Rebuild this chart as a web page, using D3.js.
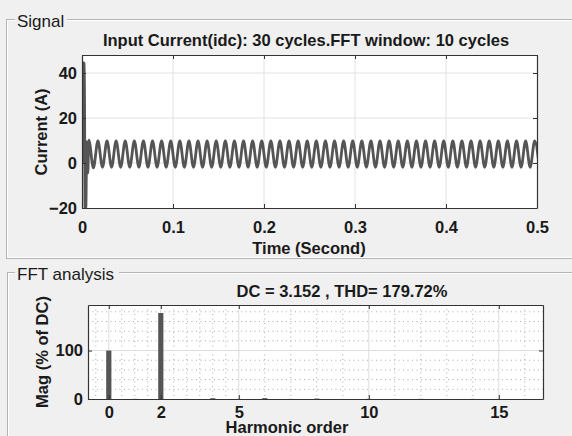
<!DOCTYPE html>
<html>
<head>
<meta charset="utf-8">
<script src="https://cdn.jsdelivr.net/npm/d3@7"></script>
<style>
  body { margin: 0; background: #f0f0f0; }
  svg { display: block; font-family: "Liberation Sans", Arial, sans-serif; }
  .tick text { font-size: 16.5px; font-weight: bold; fill: #1a1a1a; }
  .lbl { font-size: 16.5px; font-weight: bold; fill: #1a1a1a; }
  .panel-title { font-size: 17px; fill: #1a1a1a; }
</style>
</head>
<body>
<svg width="572" height="436"></svg>
<script>
// signal panel data
var timeTicks = [0, 0.1, 0.2, 0.3, 0.4, 0.5];
var currentTicks = [-20, 0, 20, 40];
var transientT = [0, 0.0003, 0.0026, 0.0033, 0.0042, 0.0052, 0.0064];
var transientI = [0, 44.6, 44.2, -20, -20, 9.5, -4.5];
var waveStart = 0.0075, waveStep = 0.005;
var waveExtrema = [
  10.2, -2.2, 9.8, -1.9, 9.8, -1.9, 9.8, -1.9, 9.8, -1.9,
  9.8, -1.9, 9.8, -1.9, 9.8, -1.9, 9.8, -1.9, 9.8, -1.9,
  9.8, -1.9, 9.8, -1.9, 9.8, -1.9, 9.8, -1.9, 9.8, -1.9,
  9.8, -1.9, 9.8, -1.9, 9.8, -1.9, 9.8, -1.9, 9.8, -1.9,
  9.8, -1.9, 9.8, -1.9, 9.8, -1.9, 9.8, -1.9, 9.8, -1.9,
  9.8, -1.9, 9.8, -1.9, 9.8, -1.9, 9.8, -1.9, 9.8, -1.9,
  9.8, -1.9, 9.8, -1.9, 9.8, -1.9, 9.8, -1.9, 9.8, -1.9,
  9.8, -1.9, 9.8, -1.9, 9.8, -1.9, 9.8, -1.9, 9.8, -1.9,
  9.8, -1.9, 9.8, -1.9, 9.8, -1.9, 9.8, -1.9, 9.8, -1.9,
  9.8, -1.9, 9.8, -1.9, 9.8, -1.9, 9.8, -1.9, 9.8, -1.9
];

// FFT panel data
var harmonics = [0, 1, 2, 3, 4, 5, 6, 7, 8, 9, 10, 11, 12, 13, 14, 15, 16];
var magnitudes = [100, 0.3, 177.5, 0.2, 1.6, 0.2, 1.8, 0.2, 0.9, 0.1, 0.4, 0.1, 0.3, 0.1, 0.2, 0.1, 0.1];
var harmonicTicks = [0, 2, 5, 10, 15];
var harmonicMinor = [-0.5, 0.5, 1, 1.5, 2.5, 3, 3.5, 4, 4.5, 6, 7, 8, 9, 11, 12, 13, 14, 16];
var magTicks = [0, 100];
var magMinor = [20, 40, 60, 80, 120, 140, 160, 180];

var svg = d3.select("svg");
var ink = "#555";
var axisColor = "#333";

function panel(x0, y0, x1, y1, title, titleW) {
  svg.append("rect").attr("x", x0).attr("y", y0).attr("width", x1 - x0).attr("height", y1 - y0)
    .attr("fill", "none").attr("stroke", "#b4b4b4");
  svg.append("rect").attr("x", x0 + 1).attr("y", y0 + 1).attr("width", x1 - x0 - 2).attr("height", y1 - y0 - 2)
    .attr("fill", "none").attr("stroke", "#fff");
  svg.append("rect").attr("x", 15).attr("y", y0 - 10).attr("width", titleW).attr("height", 20).attr("fill", "#f0f0f0");
  svg.append("text").attr("class", "panel-title").attr("x", 17).attr("y", y0 + 7.5).text(title);
}

panel(6.5, 19.5, 600, 258.5, "Signal", 52);
panel(7.5, 272.5, 600, 460, "FFT analysis", 104);

// ---------- signal plot ----------
var x1 = d3.scaleLinear().domain([0, 0.5]).range([82, 537]);
var y1 = d3.scaleLinear().domain([-20, 48]).range([208, 55]);

svg.append("rect").attr("x", 82).attr("y", 55).attr("width", 455).attr("height", 153).attr("fill", "#fff");

var g1 = svg.append("g");
g1.selectAll(".vg").data(timeTicks.slice(1, -1)).enter().append("line")
  .attr("x1", function(d) { return x1(d); }).attr("x2", function(d) { return x1(d); })
  .attr("y1", 55).attr("y2", 208).attr("stroke", "#e2e2e2");
g1.selectAll(".hg").data([0, 20, 40]).enter().append("line")
  .attr("y1", function(d) { return y1(d); }).attr("y2", function(d) { return y1(d); })
  .attr("x1", 82).attr("x2", 537).attr("stroke", "#e2e2e2");

svg.append("clipPath").attr("id", "clip1").append("rect")
  .attr("x", 82).attr("y", 55).attr("width", 455).attr("height", 153);

var pts = transientT.map(function(t, i) { return [t, transientI[i]]; })
  .concat(waveExtrema.map(function(v, i) { return [waveStart + i * waveStep, v]; }));

g1.append("path")
  .attr("clip-path", "url(#clip1)")
  .attr("fill", "none").attr("stroke", ink).attr("stroke-width", 2.8)
  .attr("d", d3.line().x(function(d) { return x1(d[0]); }).y(function(d) { return y1(d[1]); })
    .curve(d3.curveMonotoneX)(pts));

function styleAxis(g) {
  g.select(".domain").attr("stroke", axisColor).attr("stroke-width", 1.2);
  g.selectAll(".tick line").attr("stroke", axisColor);
}

svg.append("g").attr("transform", "translate(0,208)")
  .call(d3.axisBottom(x1).tickValues(timeTicks).tickFormat(d3.format("")).tickSizeInner(-4).tickSizeOuter(0).tickPadding(13))
  .call(styleAxis);
svg.append("g").attr("transform", "translate(0,55)")
  .call(d3.axisTop(x1).tickValues(timeTicks).tickFormat("").tickSizeInner(-4).tickSizeOuter(0))
  .call(styleAxis);
svg.append("g").attr("transform", "translate(82,0)")
  .call(d3.axisLeft(y1).tickValues(currentTicks).tickSizeInner(-4).tickSizeOuter(0).tickPadding(5))
  .call(styleAxis);
svg.append("g").attr("transform", "translate(537,0)")
  .call(d3.axisRight(y1).tickValues(currentTicks).tickFormat("").tickSizeInner(-4).tickSizeOuter(0))
  .call(styleAxis);

svg.append("text").attr("class", "lbl").attr("x", 306).attr("y", 46).attr("text-anchor", "middle")
  .text("Input Current(idc): 30 cycles.FFT window: 10 cycles");
svg.append("text").attr("class", "lbl").attr("x", 309).attr("y", 254).attr("text-anchor", "middle")
  .text("Time (Second)");
svg.append("text").attr("class", "lbl").attr("transform", "translate(47,132) rotate(-90)")
  .attr("text-anchor", "middle").text("Current (A)");

// ---------- FFT plot ----------
var x2 = d3.scaleLinear().domain([-0.8, 16.7]).range([88, 543]);
var y2 = d3.scaleLinear().domain([0, 194]).range([399, 305]);

svg.append("rect").attr("x", 88).attr("y", 305).attr("width", 455).attr("height", 94).attr("fill", "#fff");

var g2 = svg.append("g");
g2.selectAll(".vm").data(harmonicMinor).enter().append("line")
  .attr("x1", function(d) { return x2(d); }).attr("x2", function(d) { return x2(d); })
  .attr("y1", 305).attr("y2", 399).attr("stroke", "#aaa").attr("stroke-dasharray", "1,3.5");
g2.selectAll(".hm").data(magMinor).enter().append("line")
  .attr("y1", function(d) { return y2(d); }).attr("y2", function(d) { return y2(d); })
  .attr("x1", 88).attr("x2", 543).attr("stroke", "#aaa").attr("stroke-dasharray", "1,3.5");
g2.selectAll(".vg").data(harmonicTicks).enter().append("line")
  .attr("x1", function(d) { return x2(d); }).attr("x2", function(d) { return x2(d); })
  .attr("y1", 305).attr("y2", 399).attr("stroke", "#dcdcdc");
g2.append("line").attr("x1", 88).attr("x2", 543).attr("y1", y2(100)).attr("y2", y2(100)).attr("stroke", "#dcdcdc");

g2.selectAll(".bar").data(harmonics).enter().append("rect")
  .attr("x", function(d) { return x2(d - 0.1); })
  .attr("width", x2(0.1) - x2(-0.1))
  .attr("y", function(d, i) { return y2(magnitudes[i]); })
  .attr("height", function(d, i) { return y2(0) - y2(magnitudes[i]); })
  .attr("fill", ink);

svg.append("g").attr("transform", "translate(0,399)")
  .call(d3.axisBottom(x2).tickValues(harmonicTicks).tickSizeInner(-4).tickSizeOuter(0).tickPadding(7))
  .call(styleAxis);
svg.append("g").attr("transform", "translate(0,305)")
  .call(d3.axisTop(x2).tickValues(harmonicTicks).tickFormat("").tickSizeInner(-4).tickSizeOuter(0))
  .call(styleAxis);
svg.append("g").attr("transform", "translate(88,0)")
  .call(d3.axisLeft(y2).tickValues(magTicks).tickSizeInner(-4).tickSizeOuter(0).tickPadding(5))
  .call(styleAxis);
svg.append("g").attr("transform", "translate(543,0)")
  .call(d3.axisRight(y2).tickValues(magTicks).tickFormat("").tickSizeInner(-4).tickSizeOuter(0))
  .call(styleAxis);

svg.append("text").attr("class", "lbl").attr("x", 342).attr("y", 297).attr("text-anchor", "middle")
  .text("DC = 3.152 , THD= 179.72%");
svg.append("text").attr("class", "lbl").attr("x", 287).attr("y", 433).attr("text-anchor", "middle")
  .text("Harmonic order");
svg.append("text").attr("class", "lbl").attr("transform", "translate(48,352) rotate(-90)")
  .attr("text-anchor", "middle").text("Mag (% of DC)");
</script>
</body>
</html>
